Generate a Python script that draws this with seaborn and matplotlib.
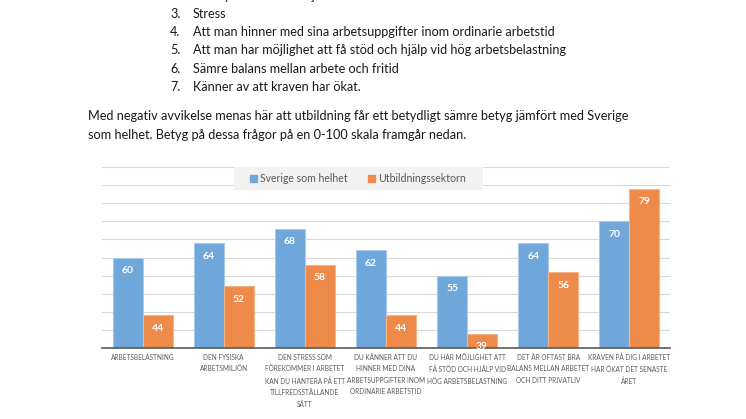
import pandas as pd
import seaborn as sns
import matplotlib.pyplot as plt
from matplotlib.patches import Patch, Rectangle

# Data
categories = [
    "ARBETSBELASTNING",
    "DEN FYSISKA\nARBETSMILJÖN",
    "DEN STRESS SOM\nFÖREKOMMER I ARBETET\nKAN DU HANTERA PÅ ETT\nTILLFREDSSTÄLLANDE\nSÄTT",
    "DU KÄNNER ATT DU\nHINNER MED DINA\nARBETSUPPGIFTER INOM\nORDINARIE ARBETSTID",
    "DU HAR MÖJLIGHET ATT\nFÅ STÖD OCH HJÄLP VID\nHÖG ARBETSBELASTNING",
    "DET ÄR OFTAST BRA\nBALANS MELLAN ARBETET\nOCH DITT PRIVATLIV",
    "KRAVEN PÅ DIG I ARBETET\nHAR ÖKAT DET SENASTE\nÅRET",
]
series = ["Sverige som helhet", "Utbildningssektorn"]
sverige = [60, 64, 68, 62, 55, 64, 70]
utbildning = [44, 52, 58, 44, 39, 56, 79]

list_items = [
    ("2.", "Den fysiska arbetsmiljön."),
    ("3.", "Stress"),
    ("4.", "Att man hinner med sina arbetsuppgifter inom ordinarie arbetstid"),
    ("5.", "Att man har möjlighet att få stöd och hjälp vid hög arbetsbelastning"),
    ("6.", "Sämre balans mellan arbete och fritid"),
    ("7.", "Känner av att kraven har ökat."),
]
paragraph = [
    "Med negativ avvikelse menas här att utbildning får ett betydligt sämre betyg jämfört med Sverige",
    "som helhet. Betyg på dessa frågor på en 0-100 skala framgår nedan.",
]

colors = ["#6FA7DB", "#EE8B4A"]
edges = ["#A8CAEA", "#F4B48A"]

df = pd.DataFrame({
    "kategori": categories * 2,
    "serie": [series[0]] * len(categories) + [series[1]] * len(categories),
    "betyg": sverige + utbildning,
})

sns.set_style("white")
plt.rcParams["font.family"] = ["Lato", "DejaVu Sans"]

W, H = 746, 419
fig = plt.figure(figsize=(W / 100, H / 100), dpi=100)
ax = fig.add_axes([102 / W, 1 - 348 / H, (670 - 102) / W, (348 - 167) / H])

sns.barplot(data=df, x="kategori", y="betyg", hue="serie", palette=colors,
            width=0.74, ax=ax, legend=False, saturation=1)

for cont, ec in zip(ax.containers, edges):
    for bar in cont:
        bar.set_edgecolor(ec)
        bar.set_linewidth(0.8)
        ax.annotate(f"{bar.get_height():.0f}",
                    (bar.get_x() + bar.get_width() / 2, bar.get_height()),
                    xytext=(0, -9.4), textcoords="offset points",
                    ha="center", va="center", color="white",
                    fontsize=7.5, fontweight="bold")

ax.set_ylim(35, 85)
ax.set_xlim(-0.5, 6.5)
ax.set_yticks(range(35, 86, 5))
ax.yaxis.grid(True, color="#D9D9D9", linewidth=0.8)
ax.set_axisbelow(True)
ax.set_yticklabels([])
ax.tick_params(axis="y", length=0)
ax.tick_params(axis="x", length=0, pad=4, labelsize=4.7, labelcolor="#595959")
for lab in ax.get_xticklabels():
    lab.set_linespacing(1.75)
    lab.set_verticalalignment("top")
ax.set_xlabel("")
ax.set_ylabel("")
for s in ["top", "right", "left"]:
    ax.spines[s].set_visible(False)
ax.spines["bottom"].set_color("#595959")
ax.spines["bottom"].set_linewidth(1.2)

# legend: grey box behind, entries on top
ax.add_patch(Rectangle((0.232, 0.873), 0.439, 0.127, transform=ax.transAxes,
                       facecolor="#F2F2F2", edgecolor="none", zorder=4))
handles = [Patch(facecolor=c, edgecolor=c) for c in colors]
leg = ax.legend(handles, series, loc="upper center", bbox_to_anchor=(0.451, 1.0),
                borderaxespad=0, ncol=2, frameon=False, fontsize=7.6,
                handlelength=0.65, handleheight=0.65, handletextpad=0.3,
                columnspacing=1.9, borderpad=0.6, labelcolor="#595959")
leg.set_zorder(5)

# Page text above the chart
for i, (num, txt) in enumerate(list_items):
    yb = 1 - (-0.5 + 18.3 * i) / H
    fig.text(170 / W, yb, num, fontsize=9.1, color="#1A1A1A", va="baseline")
    fig.text(193 / W, yb, txt, fontsize=9.1, color="#1A1A1A", va="baseline")
for i, line in enumerate(paragraph):
    fig.text(88 / W, 1 - (120 + 19 * i) / H, line, fontsize=9.2, color="#1A1A1A", va="baseline")

plt.savefig("out.png", dpi=100)
